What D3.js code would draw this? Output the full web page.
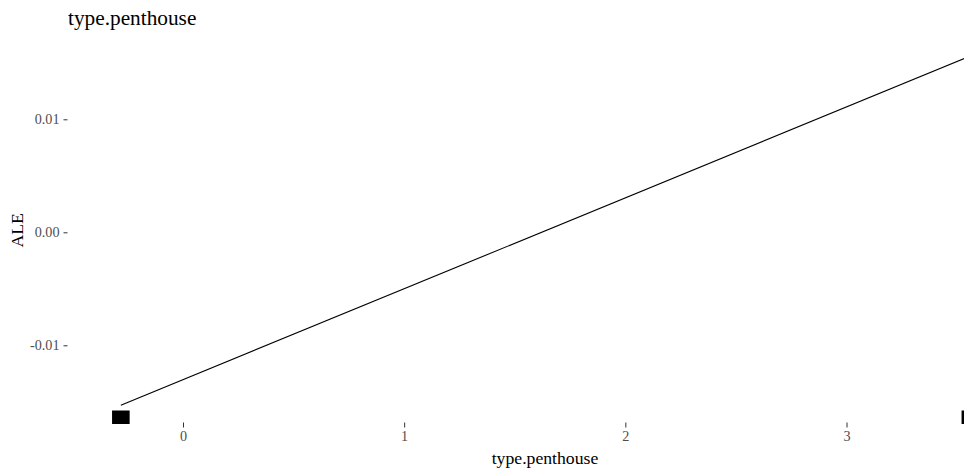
<!DOCTYPE html>
<html>
<head>
<meta charset="utf-8">
<script src="https://cdn.jsdelivr.net/npm/d3@7"></script>
<style>
  html, body { margin: 0; padding: 0; background: #fff; }
  svg { display: block; }
</style>
</head>
<body>
<svg id="chart" width="964" height="471"></svg>
<script>
// Accumulated local effect of the standardized penthouse indicator
const featureName = "type.penthouse";
const aleX = [-0.281, 3.56];
const aleY = [-0.0153, 0.0156];
const rugX = [-0.281, 3.56];
const xTicks = [0, 1, 2, 3];
const yTicks = [-0.01, 0.00, 0.01];

const serif = "'Liberation Serif', 'Times New Roman', serif";
const svg = d3.select("#chart");

const x = d3.scaleLinear().domain([0, 3]).range([183, 846.5]);
const y = d3.scaleLinear().domain([-0.01, 0.01]).range([345.3, 119.3]);
const panelLeft = 67.5, panelBottom = 422.5;
const rugHeight = 13.5, rugWidth = 17.6;

// plain hyphen for negative tick labels
const fmtY = d => d3.format(".2f")(d).replace("\u2212", "-");

// title
svg.append("text")
  .attr("x", 68).attr("y", 25)
  .attr("font-family", serif)
  .attr("font-size", 21.3)
  .attr("fill", "#000")
  .text(featureName);

// y axis
const yAxis = svg.append("g")
  .attr("transform", `translate(${panelLeft},0)`)
  .call(d3.axisLeft(y).tickValues(yTicks).tickFormat(fmtY).tickSize(4).tickPadding(4));
yAxis.attr("font-family", serif);
yAxis.select(".domain").remove();
yAxis.selectAll(".tick line").attr("stroke", "#333").attr("stroke-width", 1);
yAxis.selectAll(".tick text")
  .attr("fill", "#4d4d4d")
  .attr("font-size", 14.2)
  .attr("font-family", serif);

// x axis
const xAxis = svg.append("g")
  .attr("transform", `translate(0,${panelBottom})`)
  .call(d3.axisBottom(x).tickValues(xTicks).tickFormat(d3.format("d")).tickSize(5).tickPadding(3));
xAxis.attr("font-family", serif);
xAxis.select(".domain").remove();
xAxis.selectAll(".tick line").attr("stroke", "#333").attr("stroke-width", 1);
xAxis.selectAll(".tick text")
  .attr("fill", "#4d4d4d")
  .attr("font-size", 14.2)
  .attr("font-family", serif);

// axis titles
svg.append("text")
  .attr("x", 545).attr("y", 463.5)
  .attr("text-anchor", "middle")
  .attr("font-family", serif)
  .attr("font-size", 17.7)
  .attr("fill", "#000")
  .text(featureName);

svg.append("text")
  .attr("transform", `translate(23,${(119.3 + 345.3) / 2 - 2}) rotate(-90)`)
  .attr("text-anchor", "middle")
  .attr("font-family", serif)
  .attr("font-size", 17.7)
  .attr("fill", "#000")
  .text("ALE");

// ALE curve
const pts = aleX.map((v, i) => [v, aleY[i]]);
svg.append("path")
  .datum(pts)
  .attr("fill", "none")
  .attr("stroke", "#000")
  .attr("stroke-width", 1.1)
  .attr("d", d3.line().x(d => x(d[0])).y(d => y(d[1])));

// rug of observed feature values
svg.selectAll("rect.rug")
  .data(rugX)
  .join("rect")
  .attr("class", "rug")
  .attr("x", d => x(d) - rugWidth / 2)
  .attr("y", panelBottom + 1.5 - rugHeight)
  .attr("width", rugWidth)
  .attr("height", rugHeight)
  .attr("fill", "#000");
</script>
</body>
</html>
